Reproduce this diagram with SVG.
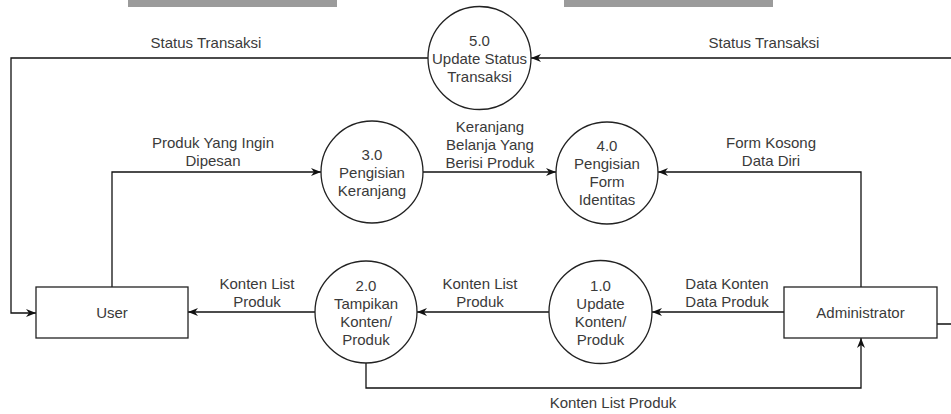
<svg xmlns="http://www.w3.org/2000/svg" width="951" height="414" viewBox="0 0 951 414">
<style>
text{font-family:"Liberation Sans",Arial,sans-serif;font-size:15px;fill:#3a3a3a;text-anchor:middle}
.proc{fill:#fff;stroke:#222;stroke-width:1.3}
.ent{fill:#fff;stroke:#222;stroke-width:1.3}
.edge{fill:none;stroke:#111;stroke-width:1.3;marker-end:url(#arr)}
.bar{fill:#9b9b9b}
</style>
<defs>
<marker id="arr" viewBox="0 0 10 10" refX="10" refY="5" markerWidth="10" markerHeight="10" markerUnits="userSpaceOnUse" orient="auto">
<path d="M0,1 L10,5 L0,9 L3,5 z" fill="#111"/>
</marker>
</defs>
<rect width="951" height="414" fill="#fff"/>
<rect class="bar" x="128" y="0" width="209" height="7"/>
<rect class="bar" x="564" y="0" width="209" height="7"/>

<g id="connectors">
<path class="edge" d="M428,58 H11 V313 H36"/>
<path class="edge" d="M937,324 H960 V58 H531"/>
<path class="edge" d="M112,287 V172 H321"/>
<path class="edge" d="M423,172 H556"/>
<path class="edge" d="M861,287 V172 H658"/>
<path class="edge" d="M784,312 H652"/>
<path class="edge" d="M549,312 H417"/>
<path class="edge" d="M315,312 H188"/>
<path class="edge" d="M366,363 V388 H861 V338"/>
<text x="206" y="48">Status Transaksi</text>
<text x="764" y="48">Status Transaksi</text>
<text x="213" y="148">Produk Yang Ingin<tspan x="213" dy="18">Dipesan</tspan></text>
<text x="490" y="132">Keranjang<tspan x="490" dy="18">Belanja Yang</tspan><tspan x="490" dy="18">Berisi Produk</tspan></text>
<text x="771" y="148">Form Kosong<tspan x="771" dy="18">Data Diri</tspan></text>
<text x="257" y="289">Konten List<tspan x="257" dy="18">Produk</tspan></text>
<text x="480" y="289">Konten List<tspan x="480" dy="18">Produk</tspan></text>
<text x="727" y="289">Data Konten<tspan x="727" dy="18">Data Produk</tspan></text>
<text x="613" y="408">Konten List Produk</text>
</g>

<g id="p5">
<circle class="proc" cx="479.5" cy="58" r="51.5"/>
<text x="479.5" y="46">5.0<tspan x="479.5" dy="18">Update Status</tspan><tspan x="479.5" dy="18">Transaksi</tspan></text>
</g>
<g id="p3">
<circle class="proc" cx="372" cy="172" r="51"/>
<text x="372" y="160">3.0<tspan x="372" dy="18">Pengisian</tspan><tspan x="372" dy="18">Keranjang</tspan></text>
</g>
<g id="p4">
<circle class="proc" cx="607" cy="173" r="51"/>
<text x="607" y="151">4.0<tspan x="607" dy="18">Pengisian</tspan><tspan x="607" dy="18">Form</tspan><tspan x="607" dy="18">Identitas</tspan></text>
</g>
<g id="p2">
<circle class="proc" cx="366" cy="312" r="51"/>
<text x="366" y="291">2.0<tspan x="366" dy="18">Tampikan</tspan><tspan x="366" dy="18">Konten/</tspan><tspan x="366" dy="18">Produk</tspan></text>
</g>
<g id="p1">
<circle class="proc" cx="600.5" cy="312" r="51.5"/>
<text x="600.5" y="291">1.0<tspan x="600.5" dy="18">Update</tspan><tspan x="600.5" dy="18">Konten/</tspan><tspan x="600.5" dy="18">Produk</tspan></text>
</g>
<g id="user">
<rect class="ent" x="36" y="287" width="152" height="51"/>
<text x="112" y="318">User</text>
</g>
<g id="admin">
<rect class="ent" x="784" y="287" width="153" height="51"/>
<text x="860.5" y="318">Administrator</text>
</g>
</svg>
